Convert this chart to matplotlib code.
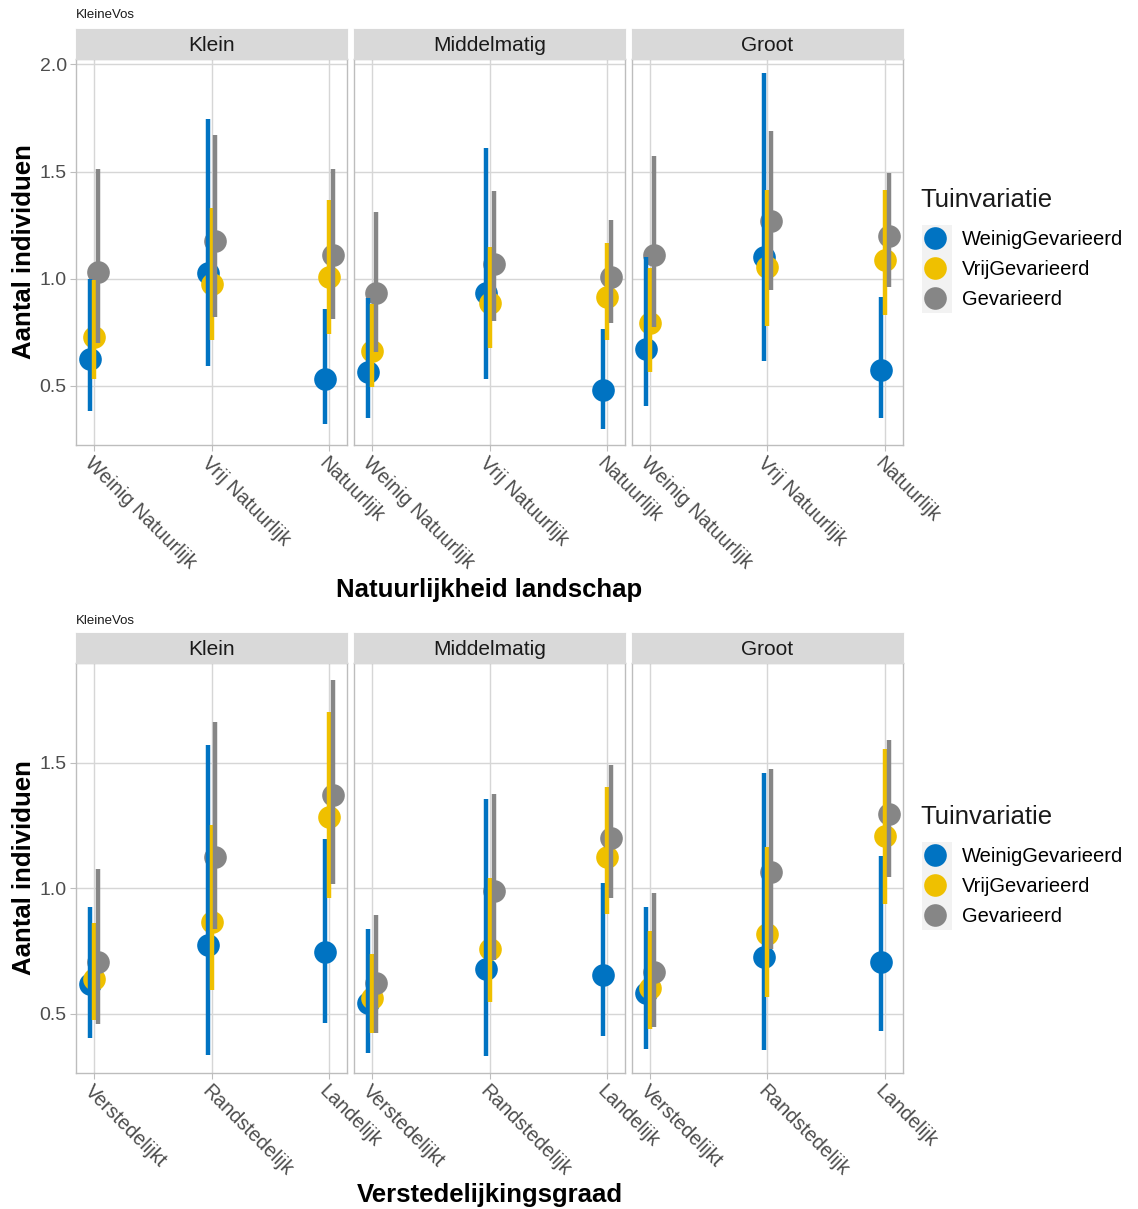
import matplotlib
matplotlib.use("Agg")
import matplotlib.pyplot as plt
from matplotlib.lines import Line2D
from matplotlib.patches import Rectangle
import numpy as np

plt.rcParams['font.family'] = ['Liberation Sans', 'DejaVu Sans']

# ---- data -------------------------------------------------------------
panels = ["Klein", "Middelmatig", "Groot"]
series = ["WeinigGevarieerd", "VrijGevarieerd", "Gevarieerd"]
colors = ["#0073C2", "#EFC000", "#868686"]

# Chart 1: landscape naturalness
nat_cats = ["Weinig Natuurlijk", "Vrij Natuurlijk", "Natuurlijk"]
# values per panel (Klein, Middelmatig, Groot), each over nat_cats
nat_weinig_est = [[0.624, 1.025, 0.530], [0.566, 0.932, 0.481], [0.673, 1.103, 0.574]]
nat_weinig_lo = [[0.384, 0.594, 0.320], [0.349, 0.531, 0.297], [0.406, 0.617, 0.351]]
nat_weinig_hi = [[0.997, 1.745, 0.857], [0.908, 1.611, 0.764], [1.103, 1.958, 0.916]]
nat_vrij_est = [[0.729, 0.975, 1.009], [0.664, 0.888, 0.916], [0.792, 1.056, 1.087]]
nat_vrij_lo = [[0.532, 0.714, 0.742], [0.496, 0.675, 0.714], [0.563, 0.781, 0.831]]
nat_vrij_hi = [[0.994, 1.328, 1.367], [0.882, 1.149, 1.168], [1.048, 1.414, 1.414]]
nat_gev_est = [[1.033, 1.177, 1.111], [0.935, 1.069, 1.009], [1.109, 1.269, 1.199]]
nat_gev_lo = [[0.699, 0.823, 0.810], [0.660, 0.804, 0.792], [0.776, 0.947, 0.960]]
nat_gev_hi = [[1.510, 1.671, 1.510], [1.313, 1.411, 1.274], [1.574, 1.691, 1.492]]

# Chart 2: degree of urbanisation
urb_cats = ["Verstedelijkt", "Randstedelijk", "Landelijk"]
urb_weinig_est = [[0.619, 0.774, 0.748], [0.542, 0.679, 0.655], [0.582, 0.728, 0.705]]
urb_weinig_lo = [[0.405, 0.336, 0.462], [0.343, 0.332, 0.412], [0.359, 0.356, 0.433]]
urb_weinig_hi = [[0.927, 1.571, 1.195], [0.837, 1.355, 1.023], [0.924, 1.461, 1.130]]
urb_vrij_est = [[0.641, 0.867, 1.283], [0.562, 0.758, 1.124], [0.604, 0.818, 1.210]]
urb_vrij_lo = [[0.475, 0.595, 0.960], [0.425, 0.548, 0.898], [0.438, 0.568, 0.938]]
urb_vrij_hi = [[0.861, 1.252, 1.704], [0.738, 1.040, 1.405], [0.830, 1.163, 1.554]]
urb_gev_est = [[0.708, 1.126, 1.372], [0.622, 0.989, 1.199], [0.665, 1.064, 1.295]]
urb_gev_lo = [[0.458, 0.840, 1.017], [0.425, 0.715, 0.960], [0.446, 0.760, 1.044]]
urb_gev_hi = [[1.076, 1.664, 1.830], [0.894, 1.376, 1.491], [0.983, 1.475, 1.591]]

nat_yticks = [0.5, 1.0, 1.5, 2.0]
urb_yticks = [0.5, 1.0, 1.5]

# ---- layout -----------------------------------------------------------
W, H = 1138, 1209
fig = plt.figure(figsize=(W / 100, H / 100), dpi=100)
fig.patch.set_facecolor("white")

panel_x = [(75.7, 347.3), (354.0, 625.3), (631.7, 903.3)]
dodge = [-0.0333, 0.0, 0.0333]
grid_c = "#D6D6D6"
border_c = "#BDBDBD"
MS = 16.3


def fig_rect(x0, x1, y0, y1):
    return [x0 / W, 1 - y1 / H, (x1 - x0) / W, (y1 - y0) / H]


def draw_chart(top, bottom, strip_top, ylim, yticks, cats, est, lo, hi,
               xtitle, xtitle_y, title_y, leg_y):
    fig.text(75.5 / W, 1 - title_y / H, "KleineVos", fontsize=9.5,
             ha="left", va="center", color="#1A1A1A")
    for p, (x0, x1) in enumerate(panel_x):
        ax = fig.add_axes(fig_rect(x0, x1, top, bottom))
        xs = np.arange(1, len(cats) + 1)
        for s in range(3):
            ax.plot(xs + dodge[s], est[s][p], "o", ms=MS, color=colors[s],
                    mec="none", zorder=3, clip_on=False)
        for s in range(3):
            ax.vlines(xs + dodge[s], lo[s][p], hi[s][p], color=colors[s],
                      lw=3.2, zorder=4)
        ax.set_xlim(0.844, 3.156)
        ax.set_ylim(*ylim)
        ax.set_xticks(xs)
        ax.set_xticklabels(cats, rotation=-45, ha="left", va="top",
                           rotation_mode="anchor", fontsize=14.2,
                           color="#4D4D4D")
        ax.set_yticks(yticks)
        if p == 0:
            ax.set_yticklabels([f"{v:.1f}" for v in yticks], fontsize=14,
                               color="#4D4D4D")
        else:
            ax.set_yticklabels([])
        ax.tick_params(axis="both", length=4, width=0.8, color=border_c,
                       pad=2.5)
        ax.tick_params(axis="y", length=0 if p else 4)
        ax.grid(True, color=grid_c, lw=1.0, zorder=0)
        ax.set_axisbelow(True)
        for sp in ax.spines.values():
            sp.set_color(border_c)
            sp.set_linewidth(1.0)
        # facet strip
        sax = fig.add_axes(fig_rect(x0, x1, strip_top, top))
        sax.set_xticks([])
        sax.set_yticks([])
        sax.set_facecolor("#D9D9D9")
        for sp in sax.spines.values():
            sp.set_color("#D9D9D9")
        sax.text(0.5, 0.45, panels[p], transform=sax.transAxes, ha="center",
                 va="center", fontsize=15, color="#1A1A1A")
    fig.text(24 / W, 1 - ((top + bottom) / 2) / H, "Aantal individuen",
             rotation=90, fontsize=18.5, fontweight="bold", ha="center",
             va="center")
    fig.text(489.5 / W, 1 - xtitle_y / H, xtitle, fontsize=18.5,
             fontweight="bold", ha="center", va="center")
    # legend: title, key background and entries
    fig.text(920 / W, 1 - (leg_y - 40) / H, "Tuinvariatie", fontsize=18.5,
             ha="left", va="center", color="#1A1A1A")
    fig.patches.append(Rectangle((921.5 / W, 1 - (leg_y + 73) / H),
                                 30 / W, 88 / H, transform=fig.transFigure,
                                 facecolor="#F2F2F2", edgecolor="none",
                                 zorder=0))
    handles = [Line2D([], [], marker="o", ls="none", ms=MS, color=c,
                      mec="none") for c in colors]
    fig.legend(handles, series, loc="upper left",
               bbox_to_anchor=(925 / W, 1 - (leg_y - 10) / H),
               frameon=False, fontsize=14.5, handlelength=1.0,
               handletextpad=0.85, labelspacing=0.55, borderpad=0.0,
               borderaxespad=0.0)


draw_chart(58.7, 444.7, 28.7, (0.225, 2.027), nat_yticks, nat_cats,
           [nat_weinig_est, nat_vrij_est, nat_gev_est],
           [nat_weinig_lo, nat_vrij_lo, nat_gev_lo],
           [nat_weinig_hi, nat_vrij_hi, nat_gev_hi],
           "Natuurlijkheid landschap", 590, 15.5, 240)

draw_chart(663.3, 1072.7, 633.3, (0.266, 1.896), urb_yticks, urb_cats,
           [urb_weinig_est, urb_vrij_est, urb_gev_est],
           [urb_weinig_lo, urb_vrij_lo, urb_gev_lo],
           [urb_weinig_hi, urb_vrij_hi, urb_gev_hi],
           "Verstedelijkingsgraad", 1195, 620.5, 857)

fig.savefig("out.png", dpi=100)
